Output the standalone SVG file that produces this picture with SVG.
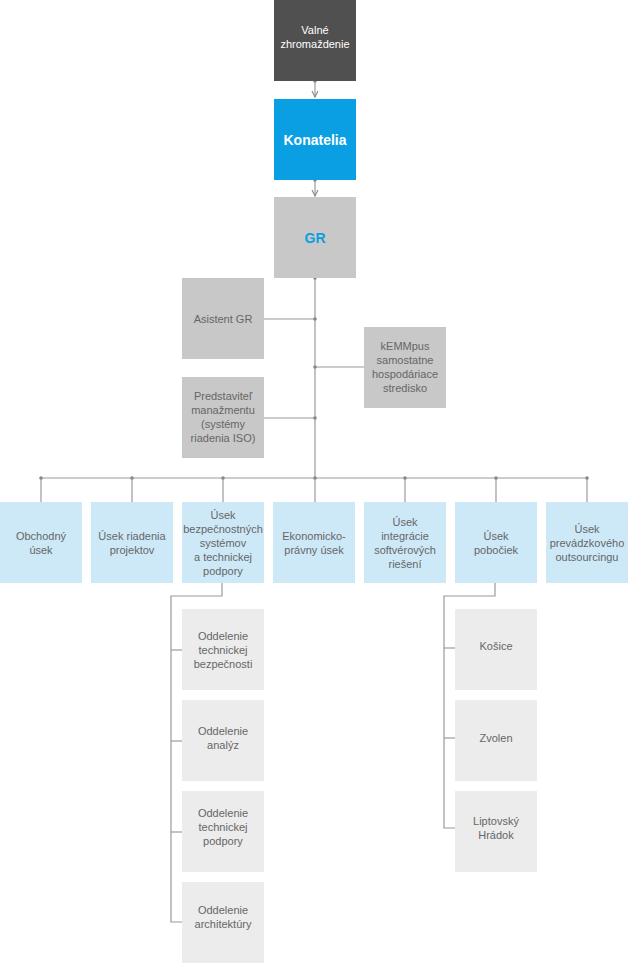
<svg xmlns="http://www.w3.org/2000/svg" width="628" height="963" viewBox="0 0 628 963">
<style>
text{font-family:"Liberation Sans",Arial,sans-serif;font-size:11px;fill:#666;text-anchor:middle}
.w{fill:#fff}
.b{font-weight:bold;font-size:14px}
.gr{fill:#0a9fe0}
.dk{fill:#505050}
.bl{fill:#0a9fe3}
.mg{fill:#c8c8c8}
.lb{fill:#cde9f8}
.lg{fill:#ececec}
.ln{stroke:#9a9a9a;stroke-width:1.2;fill:none}
.dot{fill:#888}
</style>
<defs>
<marker id="ah" markerWidth="8" markerHeight="8" refX="7" refY="4" orient="auto" markerUnits="userSpaceOnUse" viewBox="0 0 8 8">
<polyline points="1,1 7,4 1,7" fill="none" stroke="#888" stroke-width="1.1"/>
</marker>
</defs>
<g id="connectors">
<line class="ln" x1="315" y1="81" x2="315" y2="97" marker-end="url(#ah)"/>
<line class="ln" x1="315" y1="180" x2="315" y2="196" marker-end="url(#ah)"/>
<circle class="dot" cx="315" cy="81" r="1.8"/>
<circle class="dot" cx="315" cy="180" r="1.8"/>
<line class="ln" x1="315" y1="278" x2="315" y2="502"/>
<circle class="dot" cx="315" cy="278" r="1.8"/>
<line class="ln" x1="264" y1="319" x2="315" y2="319"/>
<circle class="dot" cx="315" cy="319" r="1.8"/>
<line class="ln" x1="315" y1="367" x2="364" y2="367"/>
<circle class="dot" cx="315" cy="367" r="1.8"/>
<line class="ln" x1="264" y1="418" x2="315" y2="418"/>
<circle class="dot" cx="315" cy="418" r="1.8"/>
<line class="ln" x1="41" y1="478" x2="587" y2="478"/>
<line class="ln" x1="41" y1="478" x2="41" y2="502"/>
<line class="ln" x1="132" y1="478" x2="132" y2="502"/>
<line class="ln" x1="223" y1="478" x2="223" y2="502"/>
<line class="ln" x1="405" y1="478" x2="405" y2="502"/>
<line class="ln" x1="496" y1="478" x2="496" y2="502"/>
<line class="ln" x1="587" y1="478" x2="587" y2="502"/>
<circle class="dot" cx="41" cy="478" r="1.8"/>
<circle class="dot" cx="132" cy="478" r="1.8"/>
<circle class="dot" cx="223" cy="478" r="1.8"/>
<circle class="dot" cx="315" cy="478" r="1.8"/>
<circle class="dot" cx="405" cy="478" r="1.8"/>
<circle class="dot" cx="496" cy="478" r="1.8"/>
<circle class="dot" cx="587" cy="478" r="1.8"/>
<polyline class="ln" points="222,583 222,596 171,596 171,922 182,922"/>
<line class="ln" x1="171" y1="650" x2="182" y2="650"/>
<line class="ln" x1="171" y1="741" x2="182" y2="741"/>
<line class="ln" x1="171" y1="832" x2="182" y2="832"/>
<polyline class="ln" points="495,583 495,596 444,596 444,828 455,828"/>
<line class="ln" x1="444" y1="648" x2="455" y2="648"/>
<line class="ln" x1="444" y1="738" x2="455" y2="738"/>
</g>
<g id="valne"><rect class="dk" x="274" y="0" width="82" height="81"/><text class="w" x="315" y="34">Valné</text><text class="w" x="315" y="48">zhromaždenie</text></g>
<g id="konatelia"><rect class="bl" x="274" y="99" width="82" height="81"/><text class="w b" x="315" y="145">Konatelia</text></g>
<g id="gr"><rect class="mg" x="274" y="197" width="82" height="81"/><text class="gr b" x="315" y="243">GR</text></g>
<g id="asistent"><rect class="mg" x="182" y="278" width="82" height="81"/><text x="223" y="323">Asistent GR</text></g>
<g id="kemmpus"><rect class="mg" x="364" y="327" width="82" height="81"/><text x="405" y="350">kEMMpus</text><text x="405" y="364">samostatne</text><text x="405" y="378">hospodáriace</text><text x="405" y="392">stredisko</text></g>
<g id="predstavitel"><rect class="mg" x="182" y="377" width="82" height="81"/><text x="223" y="400">Predstaviteľ</text><text x="223" y="414">manažmentu</text><text x="223" y="428">(systémy</text><text x="223" y="442">riadenia ISO)</text></g>
<g id="obchodny"><rect class="lb" x="0" y="502" width="82" height="81"/><text x="41" y="540">Obchodný</text><text x="41" y="554">úsek</text></g>
<g id="riadenia"><rect class="lb" x="91" y="502" width="82" height="81"/><text x="132" y="540">Úsek riadenia</text><text x="132" y="554">projektov</text></g>
<g id="bezpecnost"><rect class="lb" x="182" y="502" width="82" height="81"/><text x="223" y="519">Úsek</text><text x="223" y="533">bezpečnostných</text><text x="223" y="547">systémov</text><text x="223" y="561">a technickej</text><text x="223" y="575">podpory</text></g>
<g id="ekonomicko"><rect class="lb" x="273" y="502" width="82" height="81"/><text x="314" y="540">Ekonomicko-</text><text x="314" y="554">právny úsek</text></g>
<g id="integracie"><rect class="lb" x="364" y="502" width="82" height="81"/><text x="405" y="526">Úsek</text><text x="405" y="540">integrácie</text><text x="405" y="554">softvérových</text><text x="405" y="568">riešení</text></g>
<g id="pobociek"><rect class="lb" x="455" y="502" width="82" height="81"/><text x="496" y="540">Úsek</text><text x="496" y="554">pobočiek</text></g>
<g id="outsourcing"><rect class="lb" x="546" y="502" width="82" height="81"/><text x="587" y="533">Úsek</text><text x="587" y="547">prevádzkového</text><text x="587" y="561">outsourcingu</text></g>
<g id="odd-bezp"><rect class="lg" x="182" y="609" width="82" height="81"/><text x="223" y="640">Oddelenie</text><text x="223" y="654">technickej</text><text x="223" y="668">bezpečnosti</text></g>
<g id="odd-analyz"><rect class="lg" x="182" y="700" width="82" height="81"/><text x="223" y="735">Oddelenie</text><text x="223" y="749">analýz</text></g>
<g id="odd-podpory"><rect class="lg" x="182" y="791" width="82" height="81"/><text x="223" y="817">Oddelenie</text><text x="223" y="831">technickej</text><text x="223" y="845">podpory</text></g>
<g id="odd-arch"><rect class="lg" x="182" y="882" width="82" height="81"/><text x="223" y="914">Oddelenie</text><text x="223" y="928">architektúry</text></g>
<g id="kosice"><rect class="lg" x="455" y="609" width="82" height="81"/><text x="496" y="650">Košice</text></g>
<g id="zvolen"><rect class="lg" x="455" y="700" width="82" height="81"/><text x="496" y="742">Zvolen</text></g>
<g id="liptovsky"><rect class="lg" x="455" y="791" width="82" height="81"/><text x="496" y="825">Liptovský</text><text x="496" y="839">Hrádok</text></g>
</svg>
